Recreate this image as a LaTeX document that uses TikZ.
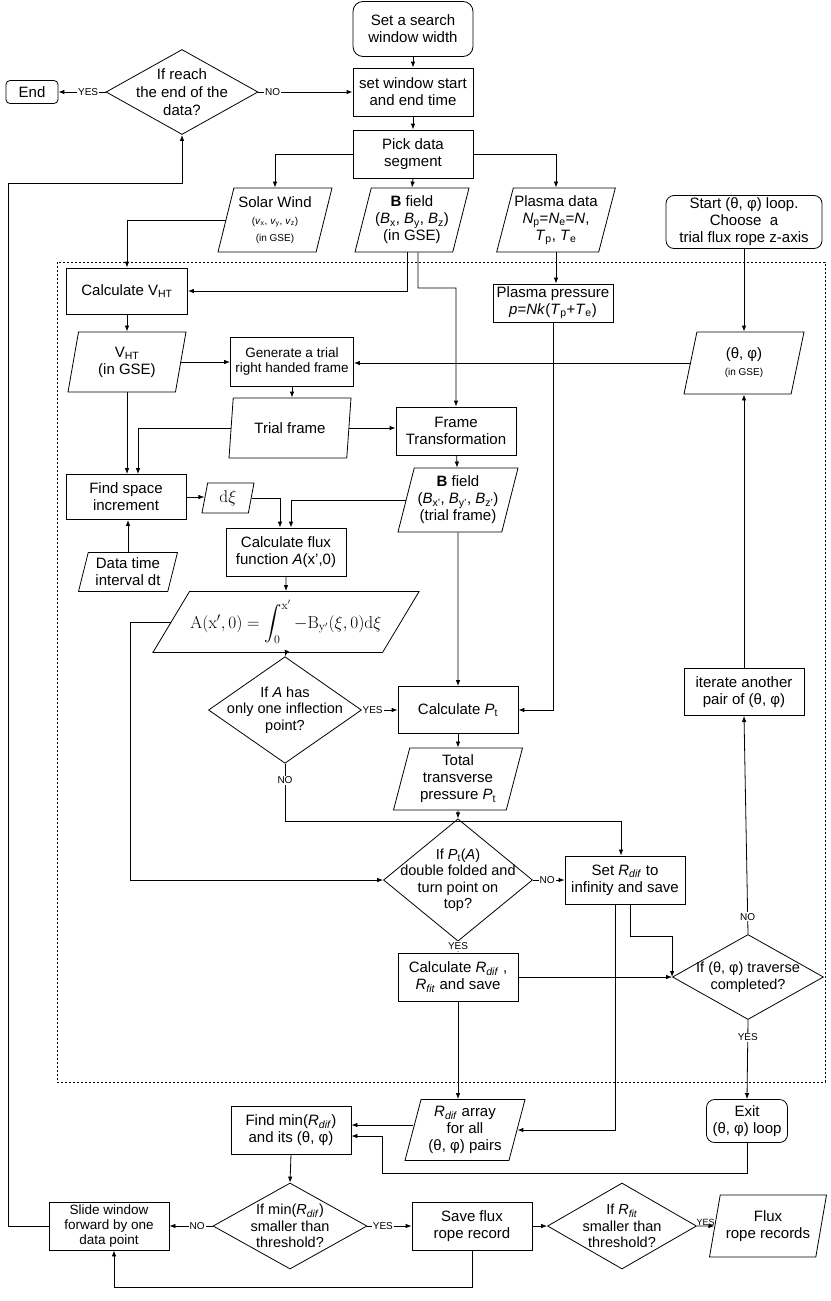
\documentclass[tikz,border=0pt]{standalone}
\usepackage{amsmath}
\usepackage[no-math]{fontspec}
\setmainfont{Liberation Sans}
\usetikzlibrary{shapes.geometric, arrows.meta}

\begin{document}
\begin{tikzpicture}[
	x=1pt, y=-1pt,
	line width=0.8pt,
	every node/.style={font=\fontsize{15}{17}\selectfont},
	box/.style={
		draw, rectangle, align=center, inner sep=2pt,
		minimum width=120pt, minimum height=48pt
	},
	term/.style={box, rounded corners=8pt},
	io/.style={
		draw, trapezium, trapezium left angle=72, trapezium right angle=108,
		trapezium stretches body=true, align=center, inner sep=1pt,
		minimum width=118pt, minimum height=62pt
	},
	dec/.style={
		draw, diamond, align=center, inner sep=-14pt,
		minimum width=151pt, minimum height=86pt,
		font=\fontsize{14.5}{16.5}\selectfont
	},
	arr/.style={-{Latex[length=6pt, width=4.5pt]}},
	lbl/.style={font=\fontsize{10}{10}\selectfont, fill=white, inner sep=1pt},
	sm/.style={font=\fontsize{13.5}{15}\selectfont},
	]
	\def\sml{\fontsize{10}{12}\selectfont}
	\useasboundingbox (0,0) rectangle (830,1301);
	\draw[line width=0.6pt, dash pattern=on 2pt off 2pt] (57,262) rectangle (825,1082);

	\node[term, rounded corners=10pt, minimum height=55pt] (start) at (413,29) {Set a search\\window width};
	\node[box] (win) at (413,92) {set window start\\and end time};
	\node[dec, minimum width=152pt, minimum height=85pt, font=\fontsize{15}{18}\selectfont] (reach) at (182,92) {If reach\\the end of the\\data?};
	\node[term, rounded corners=4pt, minimum width=52pt, minimum height=23pt] (endn) at (32,92) {End};
	\node[box] (pick) at (413,154) {Pick data\\segment};
	\node[io, minimum width=114pt, minimum height=64pt] (sw) at (275,220)
	{Solar Wind\\{\sml(\textit{v}\textsubscript{x}, \textit{v}\textsubscript{y}, \textit{v}\textsubscript{z})}\\{\sml(in GSE)}};
	\node[io, minimum width=114pt, minimum height=64pt] (bgse) at (412,220)
	{\textbf{B} field\\(\textit{B}\textsubscript{x}, \textit{B}\textsubscript{y}, \textit{B}\textsubscript{z})\\(in GSE)};
	\node[io, minimum width=112pt, minimum height=64pt] (plasma) at (556,220)
	{Plasma data\\\textit{N}\textsubscript{p}=\textit{N}\textsubscript{e}=\textit{N},\\\textit{T}\textsubscript{p}, \textit{T}\textsubscript{e}};
	\node[term, minimum width=156pt, minimum height=53pt] (loopst) at (744,222)
	{Start (θ, φ) loop.\\Choose\ \ a\\trial flux rope z-axis};

	\node[box, minimum width=121pt, minimum height=46pt] (vhtc) at (127,291) {Calculate V\textsubscript{HT}};
	\node[box, minimum height=38pt] (ppres) at (553,303)
	{Plasma pressure\\\textit{p}=\textit{Nk}(\textit{T}\textsubscript{p}+\textit{T}\textsubscript{e})};
	\node[io, minimum height=60pt] (vht) at (127,362) {V\textsubscript{HT}\\(in GSE)};
	\node[box, sm, minimum width=123pt, minimum height=49pt] (gen) at (292,362) {Generate a trial\\right handed frame};
	\node[io, trapezium left angle=68, trapezium right angle=112, minimum width=120pt] (theta) at (744,363)
	{(θ, φ)\\{\sml(in GSE)}};
	\node[io, minimum width=122pt, minimum height=60pt] (trial) at (290,428) {Trial frame};
	\node[box] (ftrans) at (456,431) {Frame\\Transformation};
	\node[box, minimum height=45pt] (find) at (126,497) {Find space\\increment};
	\node[io, minimum width=52pt, minimum height=30pt, font=\fontsize{17}{19}\selectfont] (dxi) at (228,498) {$\mathrm{d}\xi$};
	\node[io, minimum width=120pt, minimum height=64pt] (bprime) at (458,500)
	{\textbf{B} field\\(\textit{B}\textsubscript{x'}, \textit{B}\textsubscript{y'}, \textit{B}\textsubscript{z'})\\(trial frame)};
	\node[box] (calcflux) at (286,552) {Calculate flux\\function \textit{A}(x',0)};
	\node[io, minimum width=99pt, minimum height=39pt] (dtime) at (128,572) {Data time\\interval dt};
	\node[io, trapezium left angle=51, trapezium right angle=129, minimum width=254pt, minimum height=61pt,
		font=\fontsize{17}{19}\selectfont] (formula) at (286,622)
	{$\mathrm{A}(\mathrm{x}',0) = \displaystyle\int_0^{\mathrm{x}'} -\mathrm{B}_{\mathrm{y}'}(\xi,0)\mathrm{d}\xi$};
	\node[dec, minimum width=153pt, minimum height=84pt] (infl) at (285,710) {If \textit{A} has\\only one inflection\\point?};
	\node[box, minimum height=47pt] (calcpt) at (458,710) {Calculate \textit{P}\textsubscript{t}};
	\node[box, minimum height=47pt] (iter) at (744,692) {iterate another\\pair of (θ, φ)};
	\node[io, minimum width=129pt] (total) at (458,779) {Total\\transverse\\pressure \textit{P}\textsubscript{t}};
	\node[dec, minimum width=149pt] (ptdia) at (458,880)
	{If \textit{P}\textsubscript{t}(\textit{A})\\double folded and\\turn point on\\top?};
	\node[box] (setr) at (625,880) {Set \textit{R}\textsubscript{\textit{dif}} to\\infinity and save};
	\node[box] (calcr) at (458,977) {Calculate \textit{R}\textsubscript{\textit{dif}} ,\\\textit{R}\textsubscript{\textit{fit}} and save};
	\node[dec, minimum height=85pt] (trav) at (748,977) {If (θ, φ) traverse\\completed?};

	\node[term, minimum width=81pt, minimum height=43pt] (exitn) at (747,1121) {Exit\\(θ, φ) loop};
	\node[io, minimum width=120pt, minimum height=61pt] (rarr) at (465,1130)
	{\textit{R}\textsubscript{\textit{dif}} array\\for all\\(θ, φ) pairs};
	\node[box] (findmin) at (291,1130) {Find min(\textit{R}\textsubscript{\textit{dif}})\\and its (θ, φ)};
	\node[dec, minimum width=154pt] (thr) at (290,1226) {If min(\textit{R}\textsubscript{\textit{dif}})\\smaller than\\threshold?};
	\node[box, sm] (slide) at (109,1226) {Slide window\\forward by one\\data point};
	\node[box] (save) at (472,1226) {Save flux\\rope record};
	\node[dec, minimum width=149pt] (fitdia) at (622,1226) {If \textit{R}\textsubscript{\textit{fit}}\\smaller than\\threshold?};
	\node[io, minimum width=117pt] (records) at (768,1226) {Flux\\rope records};

	\coordinate (bturn) at (418,288);
	\coordinate (fl) at (130,880);
	\coordinate (nturn) at (285,821);
	\coordinate (xturn) at (382,1173);
	\coordinate (bl) at (114,1287);
	\coordinate (lt) at (8,183);
	\coordinate (fmin1) at ([yshift=5pt]findmin.east);
	\coordinate (fmin2) at ([yshift=-6pt]findmin.east);

	\draw[arr] (start) -- (win);
	\draw[arr] (win) -- (pick);
	\draw[arr] (reach.east) -- node[lbl, pos=0.15] {NO} (win.west);
	\draw[arr] (reach.west) -- node[lbl, pos=0.37] {YES} (endn.east);
	\draw[arr] (pick.west) -| (sw.north);
	\draw[arr] (pick.south) -- (bgse.north);
	\draw[arr] (pick.east) -| (plasma.north);
	\draw[arr] (sw.west) -| (vhtc.north);
	\draw[arr] ([xshift=-5pt]bgse.south) |- (vhtc.east);
	\draw[arr] ([xshift=6pt]bgse.south) -- (bturn) -| (ftrans.north);
	\draw[arr] (plasma.south) -- (plasma.south |- ppres.north);
	\draw[arr] (ppres.south) |- (calcpt.east);
	\draw[arr] (loopst.south) -- (loopst.south |- theta.north);
	\draw[arr] (theta.west) -- (theta.west -| gen.east);
	\draw[arr] (vhtc) -- (vht);
	\draw[arr] (vht.east) -- (vht.east -| gen.west);
	\draw[arr] (gen.south) -- (gen.south |- trial.north);
	\draw[arr] (trial.east) -- (trial.east -| ftrans.west);
	\draw[arr] (trial.west) -| ([xshift=12pt]find.north);
	\draw[arr] (vht.south) -- (vht.south |- find.north);
	\draw[arr] (find.east) -- (find.east -| dxi.west);
	\draw[arr] (dxi.east) -| ([xshift=-6pt]calcflux.north);
	\draw[arr] (bprime.west) -| ([xshift=5pt]calcflux.north);
	\draw[arr] (ftrans) -- (bprime);
	\draw[arr] (bprime.south) -- (calcpt.north);
	\draw[arr] (dtime.north) -- (dtime.north |- find.south);
	\draw[arr] (calcflux.south) -- (formula.north);
	\draw[arr] (formula.west) -| (fl) -- (ptdia.west);
	\draw[arr] (formula.south) -- (infl.north);
	\draw[arr] (infl.east) -- node[lbl, pos=0.3] {YES} (calcpt.west);
	\draw[arr] (infl.south) -- node[lbl, pos=0.29] {NO} (nturn) -| ([xshift=-4pt]setr.north);
	\draw[arr] (calcpt) -- (total);
	\draw[arr] (total.south) -- (ptdia.north);
	\draw[arr] (ptdia.east) -- node[lbl, pos=0.45] {NO} (setr.west);
	\draw[arr] (ptdia.south) -- node[lbl, pos=0.4] {YES} (calcr.north);
	\draw[arr] ([xshift=-10pt]setr.south) |- (rarr.east);
	\draw[arr] ([xshift=5pt]setr.south) |- (trav.west |- 0,936) -- (trav.west);
	\draw[arr] (calcr.east) -- (trav.west);
	\draw[arr] (trav.north) -- node[lbl, pos=0.08] {NO} (iter.south);
	\draw[arr] (iter.north) -- (iter.north |- theta.south);
	\draw[arr] (trav.south) -- node[lbl, pos=0.22] {YES} (exitn.north);
	\draw[arr] (calcr.south) -- (calcr.south |- rarr.north);
	\draw[arr] (exitn.south) |- (xturn) |- (fmin2);
	\draw[arr] (rarr.west |- fmin1) -- (fmin1);
	\draw[arr] (findmin.south) -- (thr.north);
	\draw[arr] (thr.west) -- node[lbl, pos=0.36] {NO} (slide.east);
	\draw[arr] (thr.east) -- node[lbl, pos=0.35] {YES} (save.west);
	\draw[arr] (save.east) -- (fitdia.west);
	\draw[arr] (fitdia.east) -- node[lbl, fill=none, above=-1pt, font=\fontsize{9}{9}\selectfont] {YES} (records.west);
	\draw[arr] (save.south) |- (bl) -- (bl |- slide.south);
	\draw[arr] (slide.west) -| (lt) -| (reach.south);
\end{tikzpicture}
\end{document}
